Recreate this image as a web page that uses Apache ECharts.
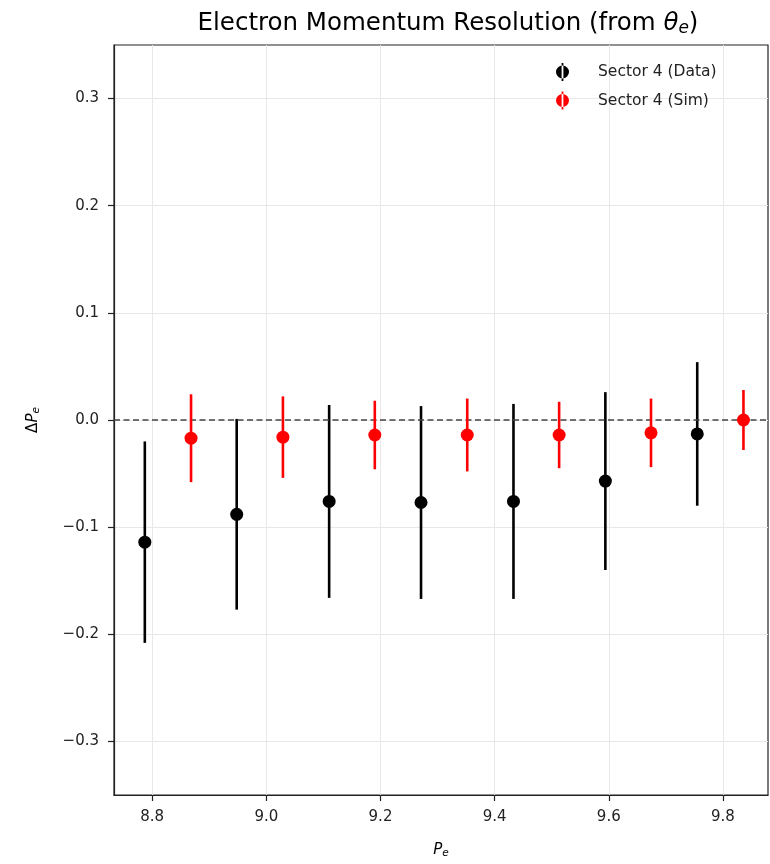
<!DOCTYPE html>
<html>
<head>
<meta charset="utf-8">
<title>Electron Momentum Resolution</title>
<script src="https://cdn.jsdelivr.net/npm/echarts@6/dist/echarts.min.js"></script>
<style>
  html, body { margin: 0; padding: 0; background: #fff; }
  #chart { width: 770px; height: 864px; }
</style>
</head>
<body>
<div id="chart"></div>
<script>
// values
var dataX = [8.787, 8.948, 9.110, 9.271, 9.433, 9.594, 9.755];
var dataY = [-0.114, -0.088, -0.076, -0.077, -0.076, -0.057, -0.013];
var dataErr = [0.094, 0.089, 0.090, 0.090, 0.091, 0.083, 0.067];

var simX = [8.868, 9.029, 9.190, 9.352, 9.513, 9.674, 9.836];
var simY = [-0.017, -0.016, -0.014, -0.014, -0.014, -0.012, 0.000];
var simErr = [0.041, 0.038, 0.032, 0.034, 0.031, 0.032, 0.028];

var xTicks = [8.8, 9.0, 9.2, 9.4, 9.6, 9.8];
var yTicks = [-0.3, -0.2, -0.1, 0.0, 0.1, 0.2, 0.3];

var FONT = 'DejaVu Sans';

function points(xs, ys, errs) {
    return xs.map(function (x, i) { return [x, ys[i], errs[i]]; });
}

// vertical error bar drawn through the axes
function errorBar(color) {
    return function (params, api) {
        var x = api.value(0), y = api.value(1), e = api.value(2);
        var top = api.coord([x, y + e]);
        var bot = api.coord([x, y - e]);
        return {
            type: 'line',
            shape: { x1: top[0], y1: top[1], x2: bot[0], y2: bot[1] },
            style: { stroke: color, lineWidth: 2.6 }
        };
    };
}

// marker with its error bar, as in the matplotlib legend
var legendIcon = 'path://M5.6,0H7.4V18H5.6Z M0,9A6.5,6.5,0,1,0,13,9A6.5,6.5,0,1,0,0,9Z';

var subRich = {
    i: { fontFamily: FONT, fontStyle: 'italic', fontSize: 15, color: '#000' },
    s: { fontFamily: FONT, fontStyle: 'italic', fontSize: 10.5, color: '#000', verticalAlign: 'bottom', padding: [7, 0, 0, 0] },
    t: { fontFamily: FONT, fontSize: 15, color: '#000' }
};

var myChart = echarts.init(document.getElementById('chart'), null, { renderer: 'canvas' });

myChart.setOption({
    animation: false,
    backgroundColor: '#fff',
    title: {
        text: 'Electron Momentum Resolution (from {i|θ}{s|e})',
        left: 443,
        textAlign: 'center',
        top: 5,
        textStyle: {
            fontFamily: FONT,
            fontSize: 24.5,
            fontWeight: 'normal',
            color: '#000',
            rich: {
                i: { fontFamily: FONT, fontStyle: 'italic', fontSize: 24.5, color: '#000' },
                s: { fontFamily: FONT, fontStyle: 'italic', fontSize: 17, color: '#000', verticalAlign: 'bottom', padding: [10, 0, 0, 0] }
            }
        }
    },
    grid: {
        left: 114,
        right: 2,
        top: 45,
        bottom: 67,
        show: true,
        borderColor: '#222',
        borderWidth: 1.2,
        backgroundColor: 'transparent'
    },
    legend: {
        orient: 'vertical',
        left: 556,
        top: 63,
        padding: 0,
        itemWidth: 13,
        itemHeight: 18,
        itemGap: 10.5,
        textStyle: {
            fontFamily: FONT,
            fontSize: 15.5,
            color: '#222',
            padding: [0, 0, 0, 24]
        },
        data: [
            { name: 'Sector 4 (Data)', icon: legendIcon, itemStyle: { color: '#000' } },
            { name: 'Sector 4 (Sim)', icon: legendIcon, itemStyle: { color: '#ff0000' } }
        ]
    },
    xAxis: {
        type: 'value',
        min: 8.733,
        max: 9.879,
        name: '{i|P}{s|e}',
        nameLocation: 'middle',
        nameGap: 46,
        nameTextStyle: { rich: subRich },
        axisLine: { show: true, onZero: false, lineStyle: { color: '#222', width: 1.2 } },
        axisTick: { show: true, length: 6, customValues: xTicks, lineStyle: { color: '#222', width: 1.2 } },
        axisLabel: {
            customValues: xTicks,
            margin: 15,
            fontFamily: FONT,
            fontSize: 15,
            color: '#222',
            formatter: function (v) { return v.toFixed(1); }
        },
        splitLine: { show: true, customValues: xTicks, lineStyle: { color: '#e8e8e8', width: 1 } }
    },
    yAxis: {
        type: 'value',
        min: -0.35,
        max: 0.35,
        name: '{t|Δ}{i|P}{s|e}',
        nameLocation: 'middle',
        nameGap: 72,
        nameRotate: 90,
        nameTextStyle: { rich: subRich },
        axisLine: { show: true, onZero: false, lineStyle: { color: '#222', width: 1.2 } },
        axisTick: { show: true, length: 6, customValues: yTicks, lineStyle: { color: '#222', width: 1.2 } },
        axisLabel: {
            customValues: yTicks,
            margin: 15,
            fontFamily: FONT,
            fontSize: 15,
            color: '#222',
            formatter: function (v) { return v.toFixed(1).replace('-', '\u2212'); }
        },
        splitLine: { show: true, customValues: yTicks, lineStyle: { color: '#e8e8e8', width: 1 } }
    },
    series: [
        {
            name: 'Sector 4 (Data)',
            type: 'custom',
            renderItem: errorBar('#000'),
            data: points(dataX, dataY, dataErr),
            z: 3,
            silent: true
        },
        {
            name: 'Sector 4 (Data)',
            type: 'scatter',
            data: points(dataX, dataY, dataErr),
            symbol: 'circle',
            symbolSize: 13,
            itemStyle: { color: '#000', opacity: 1 },
            z: 4,
            markLine: {
                silent: true,
                symbol: 'none',
                label: { show: false },
                lineStyle: { color: '#444', type: [6, 3.5], width: 1.5 },
                data: [{ yAxis: 0 }]
            }
        },
        {
            name: 'Sector 4 (Sim)',
            type: 'custom',
            renderItem: errorBar('#ff0000'),
            data: points(simX, simY, simErr),
            z: 5,
            silent: true
        },
        {
            name: 'Sector 4 (Sim)',
            type: 'scatter',
            data: points(simX, simY, simErr),
            symbol: 'circle',
            symbolSize: 13,
            itemStyle: { color: '#ff0000', opacity: 1 },
            z: 6
        }
    ]
});
</script>
</body>
</html>
